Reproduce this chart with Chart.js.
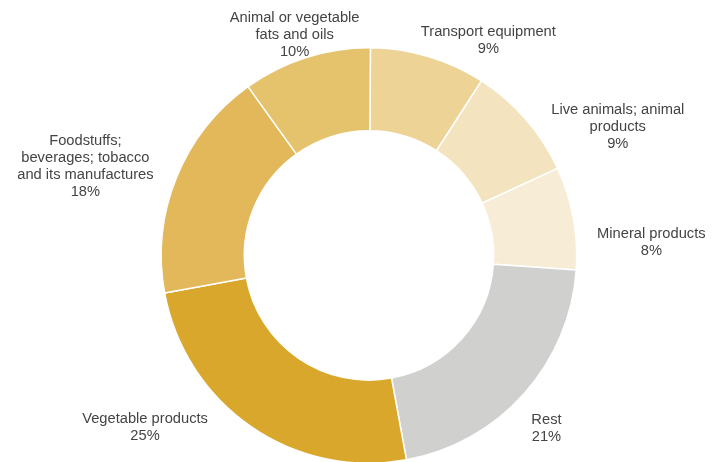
<!DOCTYPE html>
<html>
<head>
<meta charset="utf-8">
<script src="https://cdn.jsdelivr.net/npm/chart.js@4"></script>
<style>
html,body{margin:0;padding:0;background:#fff;overflow:hidden;}
#wrap{position:relative;width:726px;height:470px;}
</style>
</head>
<body>
<div id="wrap"><canvas id="c"></canvas></div>
<script>
const categories = [
  ["Transport equipment"],
  ["Live animals; animal", "products"],
  ["Mineral products"],
  ["Rest"],
  ["Vegetable products"],
  ["Foodstuffs;", "beverages; tobacco", "and its manufactures"],
  ["Animal or vegetable", "fats and oils"]
];
const shares = [9, 9, 8, 21, 25, 18, 10];
const colors = ["#EDD395", "#F3E3BF", "#F7EDD7", "#D0D1CF", "#DAA72D", "#E2B85A", "#E5C26C"];
// label displacement from each slice's outer mid-point (styling)
const labelOffsets = [[60,-16],[92,8],[78,24.5],[22.6,34],[-106,0.6],[-91,-11],[-11.6,-22.5]];

const labelPlugin = {
  id: 'outerLabels',
  afterDatasetsDraw(chart) {
    const ctx = chart.ctx;
    const meta = chart.getDatasetMeta(0);
    ctx.save();
    ctx.font = '14.7px "Liberation Sans", Arial, sans-serif';
    ctx.fillStyle = '#444444';
    ctx.textAlign = 'center';
    ctx.textBaseline = 'middle';
    const lh = 17;
    meta.data.forEach((arc, i) => {
      const p = arc.getProps(['x','y','startAngle','endAngle','outerRadius'], true);
      const mid = (p.startAngle + p.endAngle) / 2;
      const ax = p.x + p.outerRadius * Math.cos(mid) + labelOffsets[i][0];
      const ay = p.y + p.outerRadius * Math.sin(mid) + labelOffsets[i][1];
      const lines = categories[i].concat([shares[i] + '%']);
      lines.forEach((t, k) => {
        ctx.fillText(t, ax, ay + (k - (lines.length - 1) / 2) * lh);
      });
    });
    ctx.restore();
  }
};

new Chart(document.getElementById('c'), {
  type: 'doughnut',
  data: {
    labels: categories.map(c => c.join(' ')),
    datasets: [{
      data: shares,
      backgroundColor: colors,
      borderColor: '#ffffff',
      borderWidth: 1.5,
      hoverOffset: 0
    }]
  },
  options: {
    responsive: true,
    maintainAspectRatio: false,
    animation: false,
    cutout: '60%',
    rotation: 0.4,
    layout: { padding: { top: 47, bottom: 6, left: 12, right: 0 } },
    plugins: { legend: { display: false }, tooltip: { enabled: false } }
  },
  plugins: [labelPlugin]
});
</script>
</body>
</html>
